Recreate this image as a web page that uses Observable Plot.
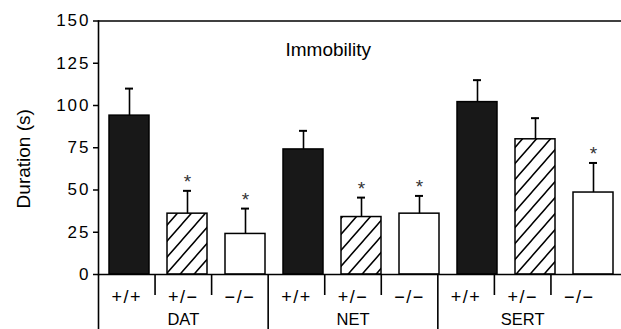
<!DOCTYPE html>
<html>
<head>
<meta charset="utf-8">
<script src="https://cdn.jsdelivr.net/npm/d3@7"></script>
<script src="https://cdn.jsdelivr.net/npm/@observablehq/plot@0.6"></script>
<style>
  body { margin: 0; background: white; }
  #wrap { position: relative; width: 621px; height: 329px; overflow: hidden; }
  #wrap svg { position: absolute; left: 0; }
  g[aria-label="y-axis tick label"] text { letter-spacing: 2px; }
  .geno text { letter-spacing: 1.5px; }
</style>
</head>
<body>
<div id="wrap"></div>
<script>
// ---- data ----
const groups = ["DAT", "NET", "SERT"];
const genotypes = ["+/+", "+/\u2212", "\u2212/\u2212"];
const means = [94, 36, 24, 74, 34, 36, 102, 80, 48.5];
const errors = [16, 13.5, 15, 11, 11.5, 10.5, 13, 12.5, 17.5];
const significant = [false, true, true, false, true, true, false, false, true];
const yTicks = [0, 25, 50, 75, 100, 125, 150];
const title = "Immobility";
const yLabel = "Duration (s)";

const rows = groups.flatMap((g, gi) => genotypes.map((t, ti) => {
  const i = gi * genotypes.length + ti;
  return {key: g + " " + t, group: g, genotype: t, index: i,
          mean: means[i], err: errors[i], top: means[i] + errors[i], sig: significant[i]};
}));
const keys = rows.map(d => d.key);
const font = "'Liberation Sans', Arial, Helvetica, sans-serif";

const main = Plot.plot({
  width: 621, height: 329,
  marginLeft: 98, marginRight: 0, marginTop: 20.5, marginBottom: 55,
  style: {fontFamily: font, background: "transparent", color: "black"},
  x: {domain: keys, range: [99.5, 622.5], paddingInner: 0.31, paddingOuter: 0.155, axis: null},
  y: {domain: [0, 150]},
  marks: [
    Plot.barY(rows.filter(d => d.genotype === genotypes[0]), {x: "key", y: "mean", fill: "#181818", stroke: "black", strokeWidth: 1.5}),
    Plot.barY(rows.filter(d => d.genotype === genotypes[1]), {x: "key", y: "mean", fill: "url(#hatch)", stroke: "black", strokeWidth: 1.5}),
    Plot.barY(rows.filter(d => d.genotype === genotypes[2]), {x: "key", y: "mean", fill: "white", stroke: "black", strokeWidth: 1.5}),
    Plot.ruleX(rows, {x: "key", y1: "mean", y2: "top", strokeWidth: 1.6}),
    Plot.tickY(rows, {x: "key", y: "top", inset: 16, strokeWidth: 2}),
    Plot.text(rows.filter(d => d.sig), {x: "key", y: "top", text: () => "*", dy: -9, fontSize: 19, fill: "#333", lineAnchor: "middle"}),
    Plot.ruleY([0, 150], {strokeWidth: 1.6}),
    Plot.frame({anchor: "left", strokeWidth: 1.6}),
    Plot.axisY({ticks: yTicks, tickSize: 5, tickPadding: 3, fontSize: 17, label: null, strokeWidth: 1.5}),
    Plot.text([yLabel], {frameAnchor: "left", textAnchor: "middle", lineAnchor: "middle", rotate: -90, dx: -75, dy: 11, fontSize: 19}),
    Plot.text([title], {frameAnchor: "top-left", textAnchor: "start", lineAnchor: "middle", dx: 187, dy: 29, fontSize: 19})
  ]
});
main.style.top = "0px";
d3.select(main).insert("defs", ":first-child").html(`
  <pattern id="hatch" patternUnits="userSpaceOnUse" width="14" height="16">
    <rect width="14" height="16" fill="white"/>
    <path d="M0,16 L14,0 M-7,8 L7,-8 M7,24 L21,8" stroke="black" stroke-width="1.5"/>
  </pattern>`);

// ---- table below the axis ----
const n = keys.length;
const cellDividers = rows.filter(d => d.index % genotypes.length !== 0).map(d => d.index);
const groupDividers = groups.map((g, gi) => gi * genotypes.length);
const groupCenters = groups.map((g, gi) => ({group: g, pos: gi * genotypes.length + genotypes.length / 2}));

const table = Plot.plot({
  width: 621, height: 55,
  marginLeft: 98, marginRight: 14, marginTop: 0, marginBottom: 0,
  style: {fontFamily: font, background: "transparent", color: "black"},
  x: {type: "linear", domain: [0, n], axis: null},
  y: {axis: null},
  marks: [
    Plot.ruleX(cellDividers, {x: d => d, insetBottom: 34, strokeWidth: 1.6}),
    Plot.ruleX(groupDividers, {x: d => d, strokeWidth: 1.6}),
    Plot.text(rows, {x: d => d.index + 0.5, frameAnchor: "top", lineAnchor: "middle", dy: 23, text: "genotype", fontSize: 18, className: "geno"}),
    Plot.text(groupCenters, {x: "pos", frameAnchor: "top", lineAnchor: "middle", dy: 45, text: "group", fontSize: 16.5})
  ]
});
table.style.top = "274px";

document.getElementById("wrap").append(main, table);
</script>
</body>
</html>
